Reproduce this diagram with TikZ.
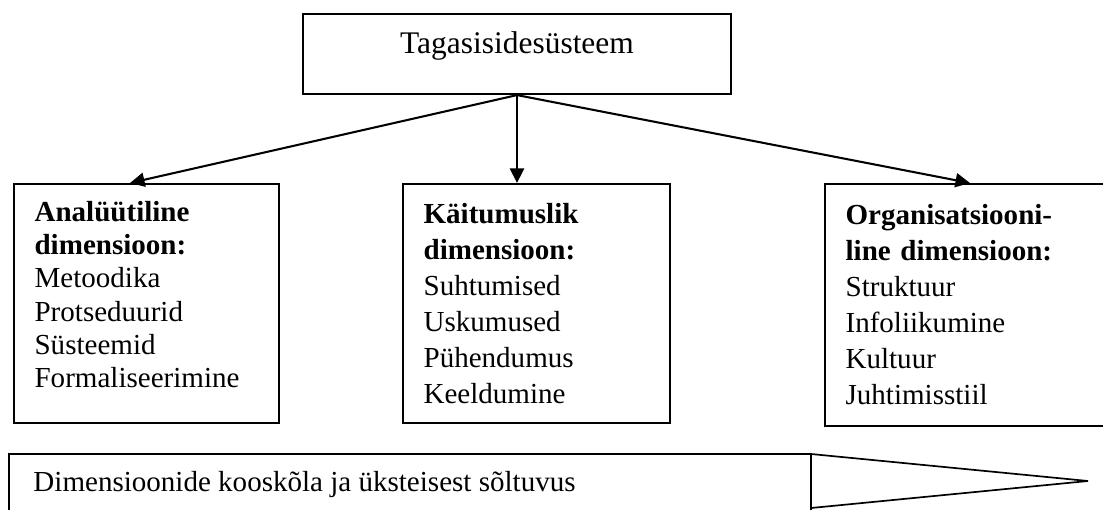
\documentclass[tikz,border=0pt]{standalone}
\usepackage{fontspec}
\setmainfont{Liberation Serif}
\usetikzlibrary{arrows.meta}
\newdimen\unitpx
\unitpx=0.4132pt

\begin{document}
\begin{tikzpicture}[x=0.4132pt, y=-0.4132pt, >={Triangle[length=6pt, width=5.8pt]},
  dimbox/.style={shape=rectangle, draw, line width=0.85pt, anchor=north west, align=left,
    inner xsep=8.5pt, text height=8.2pt, font=\fontsize{12}{14.9}\selectfont}]
\useasboundingbox (0,0) rectangle (1103,509);

\node [shape=rectangle, draw, line width=0.9pt, minimum width=428\unitpx, minimum height=80\unitpx,
  text height=8pt, text depth=8.8pt, font=\fontsize{13}{15}\selectfont] (sys) at (517,54) {Tagasisidesüsteem};
\node [dimbox, text width=92.5pt, minimum height=239\unitpx, text depth=76.4pt,
  font=\fontsize{12}{13.8}\selectfont] (anal) at (13,183)
  {\textbf{Analüütiline}\\\textbf{dimensioon:}\\Metoodika\\Protseduurid\\Süsteemid\\Formaliseerimine};
\node [dimbox, text width=93.3pt, minimum height=239\unitpx] (kait) at (402,183)
  {\textbf{Käitumuslik}\\\textbf{dimensioon:}\\Suhtumised\\Uskumused\\Pühendumus\\Keeldumine};
\node [dimbox, text width=99.5pt, minimum height=242\unitpx] (org) at (824,183)
  {\textbf{Organisatsiooni-}\\\textbf{line dimensioon:}\\Struktuur\\Infoliikumine\\Kultuur\\Juhtimisstiil};

\draw [->, line width=0.85pt] (sys.south) -- ([xshift=117\unitpx]anal.north west);
\draw [->, line width=0.85pt] (sys.south) -- (sys.south |- kait.north);
\draw [->, line width=0.85pt] (sys.south) -- ([xshift=146\unitpx]org.north west);

\draw [line width=0.7pt] (9,454) rectangle (811,511);
\draw [line width=0.7pt] (811,454) -- (1088,481) -- (811,508);
\node [anchor=base west, inner sep=0pt, font=\fontsize{12}{14}\selectfont] (flow) at (33,491)
  {Dimensioonide kooskõla ja üksteisest sõltuvus};
\end{tikzpicture}
\end{document}
